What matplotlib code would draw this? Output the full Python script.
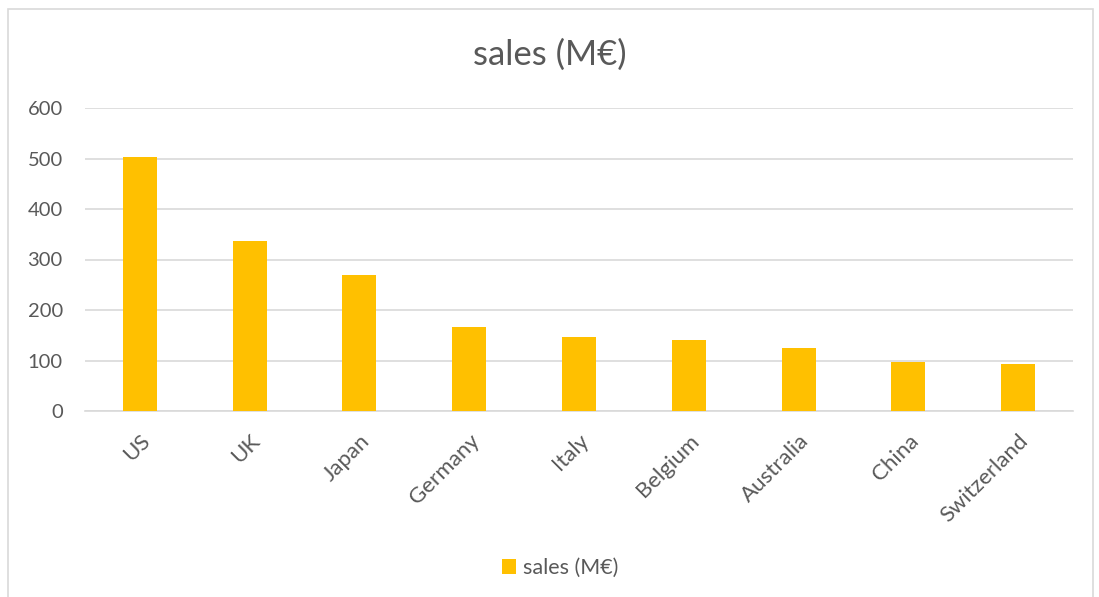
import matplotlib
matplotlib.use("Agg")
import matplotlib.pyplot as plt
from matplotlib.patches import Rectangle

countries = ["US", "UK", "Japan", "Germany", "Italy", "Belgium", "Australia", "China", "Switzerland"]
sales = [502, 337, 270, 166, 146, 141, 125, 98, 94]
y_ticks = [0, 100, 200, 300, 400, 500, 600]

BAR_COLOR = "#FFC000"
TEXT_COLOR = "#595959"
GRID_COLOR = "#D9D9D9"

plt.rcParams["font.family"] = ["Lato", "DejaVu Sans"]

fig = plt.figure(figsize=(10.99, 5.97), dpi=100)
fig.patches.append(Rectangle((8 / 1099, -0.05), 1085 / 1099, 1 - 9 / 597 + 0.05,
                             transform=fig.transFigure, fill=False,
                             edgecolor=GRID_COLOR, linewidth=1.2))

ax = fig.add_axes([85 / 1099, 1 - 411 / 597, 988 / 1099, (411 - 108) / 597])
ax.bar(range(len(countries)), sales, width=0.31, color=BAR_COLOR, label="sales (M€)", zorder=3)
ax.set_xlim(-0.5, len(countries) - 0.5)
ax.set_ylim(0, 600)
ax.set_yticks(y_ticks)
ax.set_yticklabels([str(v) for v in y_ticks], fontsize=14.5, color=TEXT_COLOR)
ax.set_xticks(range(len(countries)))
ax.set_xticklabels(countries, rotation=45, ha="right", rotation_mode="anchor",
                   fontsize=16, color=TEXT_COLOR)
ax.tick_params(axis="y", length=0, pad=16)
ax.tick_params(axis="x", length=0, pad=14)
ax.grid(axis="y", color=GRID_COLOR, linewidth=1.2, zorder=0)
for side in ["top", "right", "left"]:
    ax.spines[side].set_visible(False)
ax.spines["bottom"].set_color(GRID_COLOR)
ax.spines["bottom"].set_linewidth(1.2)

fig.text(0.5, 1 - 55 / 597, "sales (M€)", ha="center", va="center", fontsize=25, color=TEXT_COLOR)
fig.legend(loc="center", bbox_to_anchor=(560 / 1099, 1 - 568 / 597), frameon=False,
           fontsize=15.5, labelcolor=TEXT_COLOR, handlelength=0.65, handleheight=0.65,
           handletextpad=0.35)

fig.savefig("out.png", dpi=100)
